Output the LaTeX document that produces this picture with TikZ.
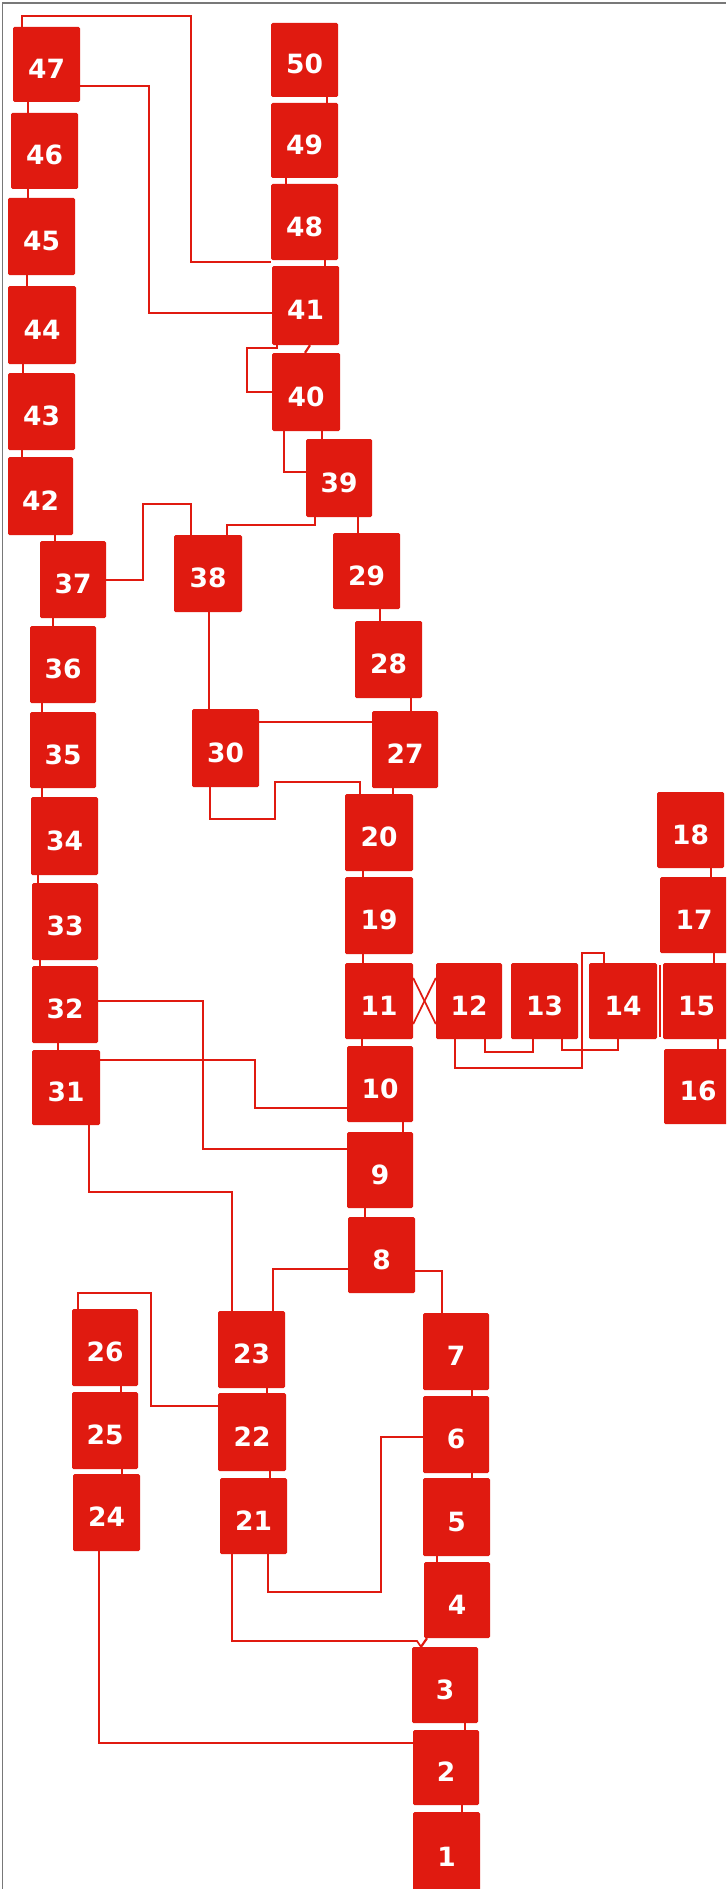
\documentclass[tikz,border=0pt]{standalone}
\usepackage{fontspec}
\setmainfont{DejaVu Sans}
\definecolor{boxred}{RGB}{224,26,16}
\definecolor{framegray}{RGB}{120,120,120}
\begin{document}
\begin{tikzpicture}[x=1pt,y=-1pt,
  box/.style={fill=boxred, draw=none, rounded corners=1.5pt, inner sep=0pt,
    text=white, font=\fontsize{26.5}{26.5}\bfseries\selectfont, text height=28pt, text depth=0pt},
  wire/.style={draw=boxred, line width=1.7pt},
  tick/.style={draw=boxred, line width=2.2pt},
  framel/.style={draw=framegray, line width=1.6pt}]
\useasboundingbox (0,0) rectangle (726,1889);
\fill[white] (0,0) rectangle (726,1889);
\clip (0,0) rectangle (726,1889);
\draw[framel] (2.5,1889) -- (2.5,3) -- (726,3);
% boxes
\foreach \n/\xa/\ya/\xb/\yb in {
 47/13/27/80/102, 46/11/113/78/189, 45/8/198/75/275, 44/8/286/76/364,
 43/8/373/75/450, 42/8/457/73/535, 37/40/541/106/618, 36/30/626/96/703,
 35/30/712/96/788, 34/31/797/98/875, 33/32/883/98/960, 32/32/966/98/1043,
 31/32/1050/100/1125,
 50/271/23/338/97, 49/271/103/338/178, 48/271/184/338/260, 41/272/266/339/345,
 40/272/353/340/431, 39/306/439/372/517, 38/174/535/242/612, 29/333/533/400/609,
 28/355/621/422/698, 30/192/709/259/787, 27/372/711/438/788,
 20/345/794/413/871, 19/345/877/413/954, 11/345/963/413/1039, 10/347/1046/413/1122,
 9/347/1132/413/1208, 8/348/1217/415/1293,
 12/436/963/502/1039, 13/511/963/578/1039, 14/589/963/657/1039, 15/663/963/730/1039,
 18/657/792/724/868, 17/660/877/728/953, 16/664/1049/732/1124,
 26/72/1309/138/1386, 25/72/1392/138/1469, 24/73/1474/140/1551,
 23/218/1311/285/1388, 22/218/1393/286/1471, 21/220/1478/287/1554,
 7/423/1313/489/1390, 6/423/1396/489/1473, 5/423/1478/490/1556, 4/424/1562/490/1638,
 3/412/1647/478/1723, 2/413/1730/479/1805, 1/413/1812/480/1893}
{
 \node[box, minimum width={(\xb-\xa)*1pt}, minimum height={(\yb-\ya)*1pt}]
   (n\n) at ({(\xa+\xb)/2},{(\ya+\yb)/2}) {\n};
}
% short connectors between stacked boxes
\foreach \a/\b/\x in {47/46/28, 46/45/28, 45/44/27, 44/43/23, 43/42/22, 42/37/55,
 37/36/53, 36/35/42, 35/34/42, 34/33/38, 33/32/40, 32/31/58,
 50/49/327, 49/48/286, 48/41/325, 40/39/322, 29/28/380, 28/27/411, 27/20/393,
 20/19/363, 19/11/363, 11/10/362, 10/9/403, 9/8/365,
 7/6/472, 6/5/472, 5/4/437, 3/2/465, 2/1/462,
 23/22/267, 22/21/270, 26/25/121, 25/24/122,
 18/17/711, 17/15/714, 15/16/718}
{
 \draw[tick] (n\a.south -| \x,0) -- (n\b.north -| \x,0);
}
\draw[tick] (n41.south -| 310,0) -- (n40.north -| 305,0);
\draw[tick] (n4.south -| 427,0) -- (n3.north -| 421,0);
\draw[tick] ([xshift=3pt,yshift=-2pt]n14.north east) -- ([xshift=3pt,yshift=2pt]n14.south east);
% long connectors
\draw[wire] ([xshift=9pt]n47.north west) |- (191,16) |- (n48.west |- 0,262);
\draw[wire] (n47.east |- 0,86) -| (149,313) -- (n41.west |- 0,313);
\draw[wire] (n41.south -| 277,0) |- (247,348) |- (n40.west |- 0,392);
\draw[wire] (n40.south -| 284,0) |- (n39.west |- 0,472);
\draw[wire] (n39.south -| 315,0) |- (227,525) -- (n38.north -| 227,0);
\draw[wire] (n39.south -| 358,0) -- (n29.north -| 358,0);
\draw[wire] (n38.north -| 191,0) |- (143,504) |- (n37.east |- 0,580);
\draw[wire] (n38.south -| 209,0) -- (n30.north -| 209,0);
\draw[wire] (n30.east |- 0,722) -- (n27.west |- 0,722);
\draw[wire] (n30.south -| 210,0) |- (275,819) |- (360,782) -- (n20.north -| 360,0);
\draw[wire] (n32.east |- 0,1001) -| (203,1149) -- (n9.west |- 0,1149);
\draw[wire] (n31.east |- 0,1060) -| (255,1108) -- (n10.west |- 0,1108);
\draw[wire] (n31.south -| 89,0) |- (232,1192) -- (n23.north -| 232,0);
\draw[wire] (n8.west |- 0,1269) -| (n23.north -| 273,0);
\draw[wire] (n8.east |- 0,1271) -| (n7.north -| 442,0);
\draw[wire] (n26.north -| 78,0) |- (151,1293) |- (n22.west |- 0,1406);
\draw[wire] (n6.west |- 0,1437) -| (381,1592) -| (n21.south -| 268,0);
\draw[wire] (n21.south -| 232,0) |- (417,1641) -- (n3.north -| 421,0);
\draw[wire] (n24.south -| 99,0) |- (n2.west |- 0,1743);
\draw[wire] (n11.east |- 0,978) -- (n12.west |- 0,1024);
\draw[wire] (n11.east |- 0,1024) -- (n12.west |- 0,978);
\draw[wire] (n12.south -| 455,0) |- (582,1068) |- (604,953) -- (n14.north -| 604,0);
\draw[wire] (n12.south -| 485,0) |- (533,1052) -- (n13.south -| 533,0);
\draw[wire] (n13.south -| 562,0) |- (618,1050) -- (n14.south -| 618,0);
\end{tikzpicture}
\end{document}
